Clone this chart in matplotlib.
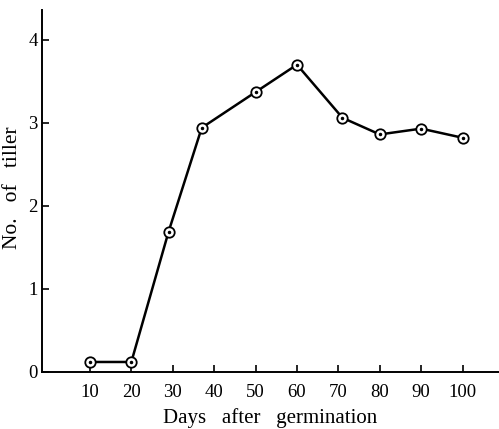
import matplotlib
matplotlib.use("Agg")
import matplotlib.pyplot as plt

# datos
dias = [10, 20, 29, 37, 50, 60, 71, 80, 90, 100]
macollos = [0.12, 0.12, 1.69, 2.94, 3.37, 3.70, 3.06, 2.86, 2.93, 2.82]
ticks_x = [10, 20, 30, 40, 50, 60, 70, 80, 90, 100]
ticks_y = [0, 1, 2, 3, 4]

plt.rcParams['font.family'] = ['Liberation Serif', 'DejaVu Serif']

fig = plt.figure(figsize=(4.99, 4.29), dpi=100)
ax = fig.add_axes([0.084, 0.133, 0.916, 0.844])

ax.plot(dias, macollos, color='black', lw=1.8, marker='o', ms=7.5,
        mfc='white', mec='black', mew=1.3)
ax.plot(dias, macollos, ls='none', marker='o', ms=1.5, color='black')

ax.set_xlim(-1.6, 108.8)
ax.set_ylim(0, 4.36)
ax.set_xticks(ticks_x)
ax.set_yticks(ticks_y)

for lado in ['top', 'right']:
    ax.spines[lado].set_visible(False)
for lado in ['left', 'bottom']:
    ax.spines[lado].set_linewidth(1.4)

ax.tick_params(direction='in', length=5, width=1.2, labelsize=13.5)
ax.tick_params(axis='x', pad=9)
ax.tick_params(axis='y', pad=3)

ax.set_xlabel("Days   after   germination", fontsize=15)
ax.set_ylabel("No.   of   tiller", fontsize=15.5)
ax.xaxis.set_label_coords(0.499, -0.1)
ax.yaxis.set_label_coords(-0.044, 0.508)

fig.savefig('out.png', dpi=100)
plt.close(fig)
